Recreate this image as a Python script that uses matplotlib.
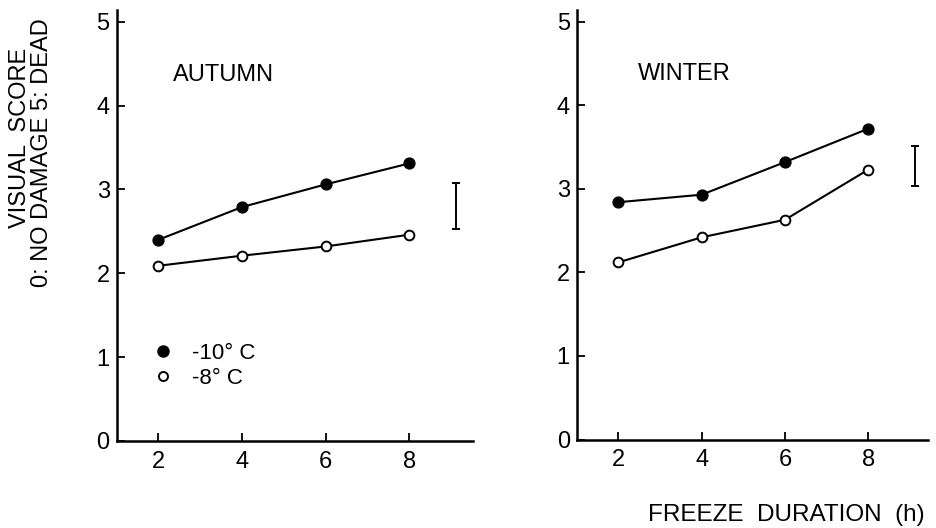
import matplotlib
matplotlib.use('Agg')
import matplotlib.pyplot as plt
from matplotlib.lines import Line2D

plt.rcParams['font.family'] = ['Liberation Sans', 'DejaVu Sans']

# freeze duration (h)
durations = [2, 4, 6, 8]

# visual score, 0: no damage, 5: dead
autumn_m10 = [2.40, 2.79, 3.06, 3.31]
autumn_m8 = [2.09, 2.21, 2.32, 2.46]
winter_m10 = [2.84, 2.93, 3.32, 3.72]
winter_m8 = [2.12, 2.42, 2.63, 3.23]

# LSD bars (low, high), drawn to the right of the data
lsd_x = 9.12
lsd_autumn = (2.53, 3.08)
lsd_winter = (3.03, 3.51)

seasons = ['AUTUMN', 'WINTER']
yticks = [0, 1, 2, 3, 4, 5]
xticks = [2, 4, 6, 8]

fig = plt.figure(figsize=(9.37, 5.28), dpi=100)
ax1 = fig.add_axes([0.1245, 0.1648, 0.3803, 0.8162])
ax2 = fig.add_axes([0.6155, 0.1676, 0.3752, 0.8134])

panels = [
    (ax1, autumn_m10, autumn_m8, lsd_autumn, 9.53),
    (ax2, winter_m10, winter_m8, lsd_winter, 9.44),
]

for i, (ax, m10, m8, lsd, xmax) in enumerate(panels):
    ax.plot(durations, m10, color='black', lw=1.5, marker='o', ms=7.8,
            mfc='black', mec='black', zorder=3)
    ax.plot(durations, m8, color='black', lw=1.5, marker='o', ms=7,
            mfc='white', mec='black', mew=1.4, zorder=3)
    mid = (lsd[0] + lsd[1]) / 2
    half = (lsd[1] - lsd[0]) / 2
    ax.errorbar([lsd_x], [mid], yerr=[half], fmt='none', ecolor='black',
                elinewidth=1.4, capsize=2.6, capthick=1.4)

    ax.set_xlim(1.0, xmax)
    ax.set_ylim(0, 5.14)
    ax.set_xticks(xticks)
    ax.set_yticks(yticks)
    ax.spines['top'].set_visible(False)
    ax.spines['right'].set_visible(False)
    ax.spines['left'].set_linewidth(1.8)
    ax.spines['bottom'].set_linewidth(1.8)
    ax.tick_params(axis='both', direction='in', length=6, width=1.3,
                   labelsize=17)
    ax.tick_params(axis='x', pad=7)
    ax.tick_params(axis='y', pad=5)
    ax.text(2.35 if i == 0 else 2.48, 4.37, seasons[i], fontsize=17,
            va='center', ha='left')

handles = [
    Line2D([], [], ls='none', marker='o', ms=8, mfc='black', mec='black'),
    Line2D([], [], ls='none', marker='o', ms=6.5, mfc='white', mec='black', mew=1.4),
]
ax1.legend(handles, ['-10\u00b0 C', '-8\u00b0 C'], frameon=False, fontsize=16,
           loc='center left', bbox_to_anchor=(0.08, 0.174),
           handlelength=0.8, handletextpad=0.9, labelspacing=0.2,
           borderaxespad=0)

fig.text(0.0213, 0.739, 'VISUAL  SCORE', rotation=90, fontsize=17,
         ha='center', va='center')
fig.text(0.0448, 0.710, '0: NO DAMAGE 5: DEAD', rotation=90, fontsize=17,
         ha='center', va='center')
fig.text(0.839, 0.0246, 'FREEZE  DURATION  (h)', fontsize=17.5,
         ha='center', va='center')

fig.savefig('out.png', dpi=100)
